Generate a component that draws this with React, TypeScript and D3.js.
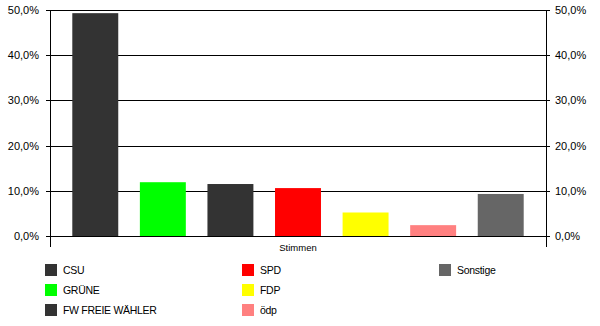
import React from "react";
import * as d3 from "d3";

const categories = ["CSU", "GRÜNE", "FW FREIE WÄHLER", "SPD", "FDP", "ödp", "Sonstige"];
const values = [49.3, 11.9, 11.5, 10.6, 5.2, 2.4, 9.3];
const colors = ["#333333", "#00ff00", "#333333", "#ff0000", "#ffff00", "#ff8080", "#666666"];
const yTicks = [0, 10, 20, 30, 40, 50];
const xLabel = "Stimmen";

export default function App() {
  const W = 600, H = 326;
  const left = 50, right = 546, top = 10, zeroY = 236, axisBottom = 247;
  const x = d3.scaleBand<string>().domain(categories).range([left, right]).paddingInner(0.32).paddingOuter(0.33);
  const y = d3.scaleLinear().domain([0, 50]).range([zeroY, top]);
  const fmt = (v: number) => v.toFixed(1).replace(".", ",") + "%";
  const font = "'Liberation Sans', Arial, sans-serif";

  const legendCols = [45, 242, 439];
  const legendRows = [270, 290, 310];

  return (
    <svg width={W} height={H} style={{ position: "absolute", left: 0, top: 0, background: "#fff" }} fontFamily={font}>
      {yTicks.map((t) => (
        <g key={t}>
          <line x1={left - 4} x2={right + 4} y1={Math.round(y(t)) + 0.5} y2={Math.round(y(t)) + 0.5} stroke="#000" />
          <text x={39} y={y(t) + 4} fontSize={11} textAnchor="end" fill="#000">{fmt(t)}</text>
          <text x={555} y={y(t) + 4} fontSize={11} textAnchor="start" fill="#000">{fmt(t)}</text>
        </g>
      ))}
      <line x1={left + 0.5} x2={left + 0.5} y1={top} y2={axisBottom} stroke="#000" />
      <line x1={right + 0.5} x2={right + 0.5} y1={top} y2={axisBottom} stroke="#000" />
      {categories.map((c, i) => (
        <rect key={c} x={x(c)} y={y(values[i])} width={x.bandwidth()} height={zeroY - y(values[i])} fill={colors[i]} />
      ))}
      <text x={298} y={251} fontSize={9.5} textAnchor="middle" fill="#000">{xLabel}</text>
      {categories.map((c, i) => {
        const col = Math.floor(i / 3);
        const row = i % 3;
        const lx = legendCols[col];
        const ly = legendRows[row];
        return (
          <g key={"l" + c}>
            <rect x={lx} y={ly - 6} width={12} height={12} fill={colors[i]} />
            <text x={lx + 18} y={ly + 4} fontSize={10.5} letterSpacing={-0.3} fill="#000">{c}</text>
          </g>
        );
      })}
    </svg>
  );
}
